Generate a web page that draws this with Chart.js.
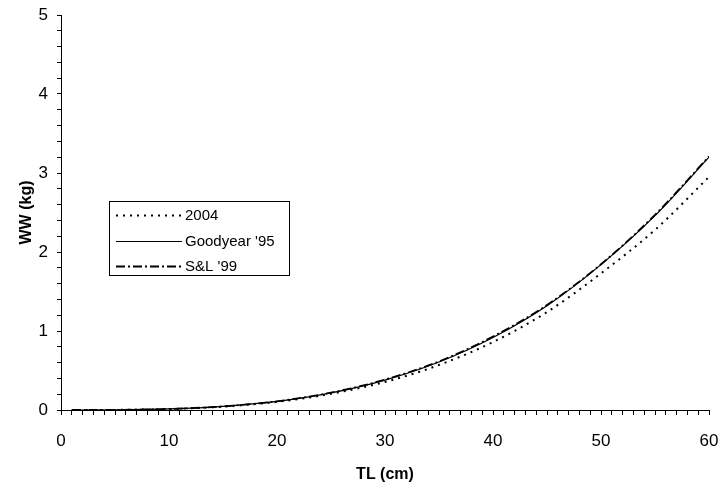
<!DOCTYPE html>
<html>
<head>
<meta charset="utf-8">
<script src="https://cdn.jsdelivr.net/npm/chart.js@4"></script>
<style>
  html, body { margin: 0; padding: 0; background: #fff; }
  #wrap { width: 723px; height: 492px; }
</style>
</head>
<body>
<div id="wrap"><canvas id="wwChart" width="723" height="492"></canvas></div>
<script>
// lengths (cm) and weights (kg)
const tlValues = [1, 5, 10, 15, 20, 25, 30, 35, 40, 45, 50, 55, 60];
const ww2004 = [0, 0.0015, 0.012, 0.043, 0.103, 0.205, 0.355, 0.57, 0.86, 1.24, 1.73, 2.28, 2.95];
const wwGoodyear95 = [0, 0.0015, 0.013, 0.045, 0.108, 0.216, 0.379, 0.608, 0.918, 1.32, 1.84, 2.46, 3.2];
const wwSL99 = [0, 0.0015, 0.013, 0.046, 0.11, 0.22, 0.385, 0.615, 0.93, 1.33, 1.845, 2.47, 3.21];
const seriesNames = ['2004', "Goodyear '95", "S&L '99"];
const xTickLabels = [0, 10, 20, 30, 40, 50, 60];
const yTickLabels = [0, 1, 2, 3, 4, 5];

const toPoints = ys => tlValues.map((x, i) => ({ x: x, y: ys[i] }));
const FONT = 'Arial, "Liberation Sans"';

// legend box floating inside the plot, like the original
const boxLegend = {
    id: 'boxLegend',
    afterDraw(chart) {
        const ctx = chart.ctx;
        const left = 109.5, top = 201.5, w = 180, h = 74;
        const rows = [215, 241, 266];
        ctx.save();
        ctx.fillStyle = '#fff';
        ctx.fillRect(left, top, w, h);
        ctx.strokeStyle = '#000';
        ctx.lineWidth = 1;
        ctx.strokeRect(left, top, w, h);
        ctx.font = '15px ' + FONT;
        ctx.textBaseline = 'middle';
        chart.data.datasets.forEach((ds, i) => {
            const y = rows[i] + 0.5;
            ctx.beginPath();
            ctx.setLineDash(ds.borderDash || []);
            ctx.lineWidth = ds.borderWidth;
            ctx.strokeStyle = ds.borderColor;
            ctx.moveTo(116, y);
            ctx.lineTo(182, y);
            ctx.stroke();
            ctx.setLineDash([]);
            ctx.fillStyle = '#000';
            ctx.fillText(ds.label, 185, y);
        });
        ctx.restore();
    }
};

new Chart(document.getElementById('wwChart').getContext('2d'), {
    type: 'line',
    data: {
        datasets: [{
            label: seriesNames[0],
            data: toPoints(ww2004),
            borderColor: '#000',
            borderWidth: 2,
            borderDash: [2, 5]
        }, {
            label: seriesNames[1],
            data: toPoints(wwGoodyear95),
            borderColor: '#000',
            borderWidth: 1.2
        }, {
            label: seriesNames[2],
            data: toPoints(wwSL99),
            borderColor: '#000',
            borderWidth: 1.8,
            borderDash: [9, 3, 2, 3]
        }]
    },
    options: {
        responsive: false,
        animation: false,
        layout: { padding: { top: 15, right: 14, left: 0, bottom: 0 } },
        elements: {
            point: { radius: 0 },
            line: { cubicInterpolationMode: 'monotone', fill: false }
        },
        plugins: {
            legend: { display: false },
            tooltip: { enabled: false }
        },
        scales: {
            x: {
                type: 'linear',
                min: 0,
                max: 60,
                afterFit: s => {
                    s.height = 82;
                    s.paddingLeft = 0;
                    s.paddingRight = 0;
                },
                border: { color: '#000', width: 1 },
                grid: { drawOnChartArea: false, drawTicks: true, tickLength: 5, color: '#000' },
                ticks: {
                    stepSize: 1,
                    autoSkip: false,
                    maxRotation: 0,
                    padding: 16,
                    color: '#000',
                    font: { family: FONT, size: 17 },
                    callback: v => xTickLabels.includes(v) ? String(v) : ''
                },
                title: {
                    display: true,
                    text: 'TL (cm)',
                    color: '#000',
                    font: { family: FONT, size: 16, weight: 'bold' },
                    padding: { top: 4, bottom: 8 }
                }
            },
            y: {
                type: 'linear',
                min: 0,
                max: 5,
                afterFit: s => {
                    s.width = 61;
                    s.paddingTop = 0;
                    s.paddingBottom = 0;
                },
                border: { color: '#000', width: 1 },
                grid: { drawOnChartArea: false, drawTicks: true, tickLength: 4, color: '#000' },
                ticks: {
                    stepSize: 0.2,
                    autoSkip: false,
                    padding: 9,
                    color: '#000',
                    font: { family: FONT, size: 17 },
                    callback: v => yTickLabels.includes(Math.round(v * 1000) / 1000) ? String(Math.round(v)) : ''
                },
                title: {
                    display: true,
                    text: 'WW (kg)',
                    color: '#000',
                    font: { family: FONT, size: 16, weight: 'bold' },
                    padding: { top: 17, bottom: 4 }
                }
            }
        }
    },
    plugins: [boxLegend]
});
</script>
</body>
</html>
